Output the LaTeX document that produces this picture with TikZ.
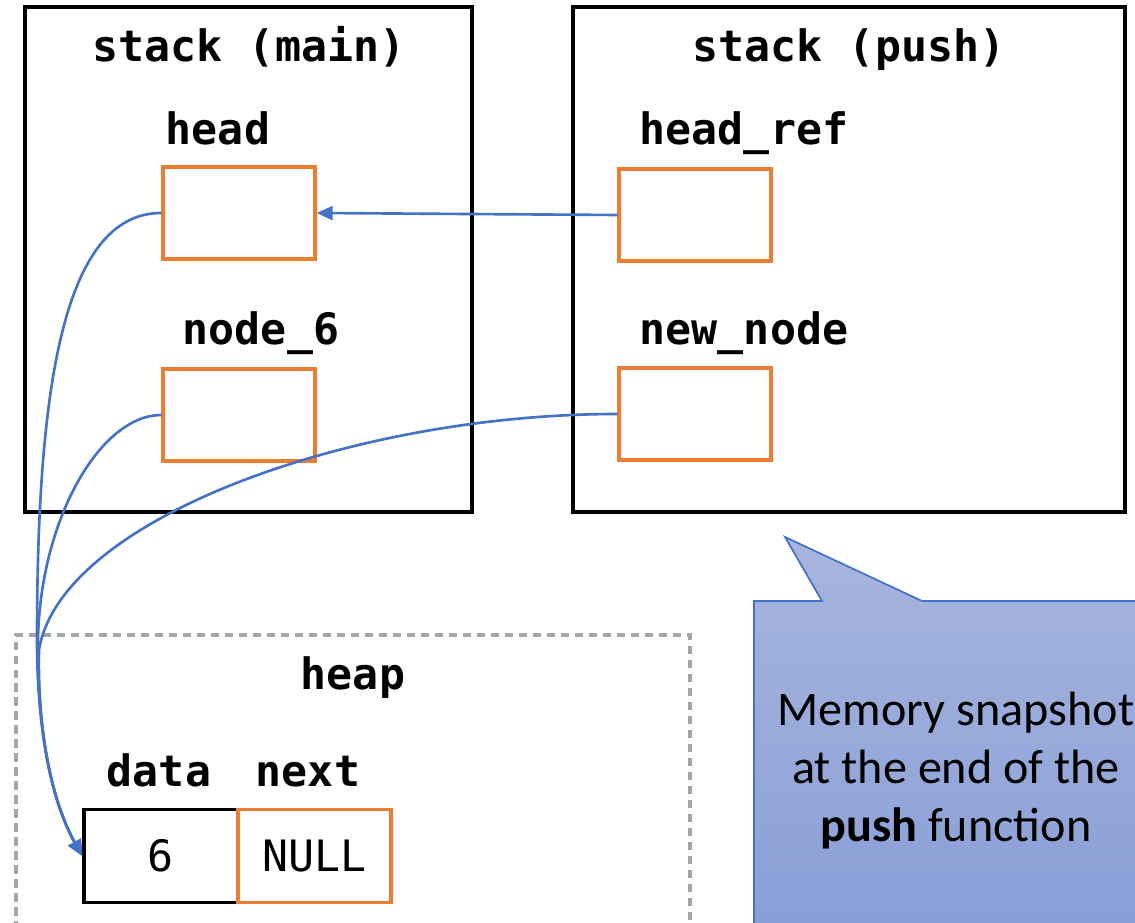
\documentclass[tikz,border=0pt]{standalone}
\usepackage{fontspec}
\setmainfont{Carlito}
\setmonofont{DejaVu Sans Mono}
\usetikzlibrary{arrows.meta}

\definecolor{ptrblue}{HTML}{4472C4}
\definecolor{cellorange}{HTML}{ED7D31}
\definecolor{heapgray}{HTML}{A6A6A6}
\definecolor{notetop}{HTML}{A8B6DE}
\definecolor{notebottom}{HTML}{889ED6}

\begin{document}
\begin{tikzpicture}[x=0.1mm, y=-0.1mm,
    frame/.style={draw=black, line width=0.95pt},
    cell/.style={draw=cellorange, line width=0.95pt, inner sep=0pt,
        minimum width=15.2mm, minimum height=9.2mm},
    varname/.style={anchor=base, inner sep=0pt,
        font=\ttfamily\bfseries\fontsize{12.3}{14}\selectfont},
    value/.style={font=\ttfamily\fontsize{12.3}{14}\selectfont},
    ptr/.style={draw=ptrblue, line width=0.75pt,
        -{Triangle[length=1.6mm, width=1.4mm]}},
    note/.style={align=center, font=\fontsize{13.7}{16.5}\selectfont}]
    \useasboundingbox (0,0) rectangle (1135,923);

    % Stack frames
    \draw[frame] (25,7) rectangle (472,512);
    \draw[frame] (573,7) rectangle (1125,512);
    \node[varname] (mainlbl) at (249,62) {stack (main)};
    \node[varname] (pushlbl) at (849,62) {stack (push)};

    % Locals of main
    \node[varname] (headlbl) at (218,145) {head};
    \node[cell] (head) at (239,213) {};
    \node[varname] (nodelbl) at (261,345) {node\_6};
    \node[cell] (node6) at (239,415) {};

    % Locals of push
    \node[varname] (reflbl) at (744,145) {head\_ref};
    \node[cell] (headref) at (695,215) {};
    \node[varname] (newlbl) at (744,345) {new\_node};
    \node[cell] (newnode) at (695,414) {};

    % Heap region (runs off the bottom)
    \draw[heapgray, line width=0.9pt, dash pattern=on 0.85mm off 0.55mm]
        (16,930) -- (16,635) -- (690,635) -- (690,930);
    \node[varname] (heaplbl) at (353,690) {heap};
    \node[varname] (datalbl) at (159,787) {data};
    \node[varname] (nextlbl) at (308,787) {next};
    \node[draw=black, line width=0.95pt, inner sep=0pt, minimum width=15.4mm,
        minimum height=9.3mm, value] (data) at (161,856) {6};
    \node[cell, minimum width=15.3mm, minimum height=9.3mm, value]
        (next) at (314.5,856) {NULL};

    % Pointers
    \draw[ptr] (headref.west) -- (head.east);
    \draw[ptr] (head.west) .. controls (60,213) and (37,400) .. (37,640)
        .. controls (37,760) and (62,820) .. (data.west);
    \draw[ptr] (node6.west) .. controls (100,415) and (40,520) .. (38,640)
        .. controls (37,760) and (62,820) .. (data.west);
    \draw[ptr] (newnode.west) .. controls (350,414) and (60,520) .. (39,650)
        .. controls (37,760) and (62,820) .. (data.west);

    % Callout
    \shade[top color=notetop, bottom color=notebottom, draw=ptrblue, line width=0.5pt]
        (754,601) -- (822,601) -- (785,537) -- (922,601) -- (1140,601)
        -- (1140,930) -- (754,930) -- cycle;
    \node[note] (memo) at (956,771) {Memory snapshot\\at the end of the\\\textbf{push} function};
\end{tikzpicture}
\end{document}
